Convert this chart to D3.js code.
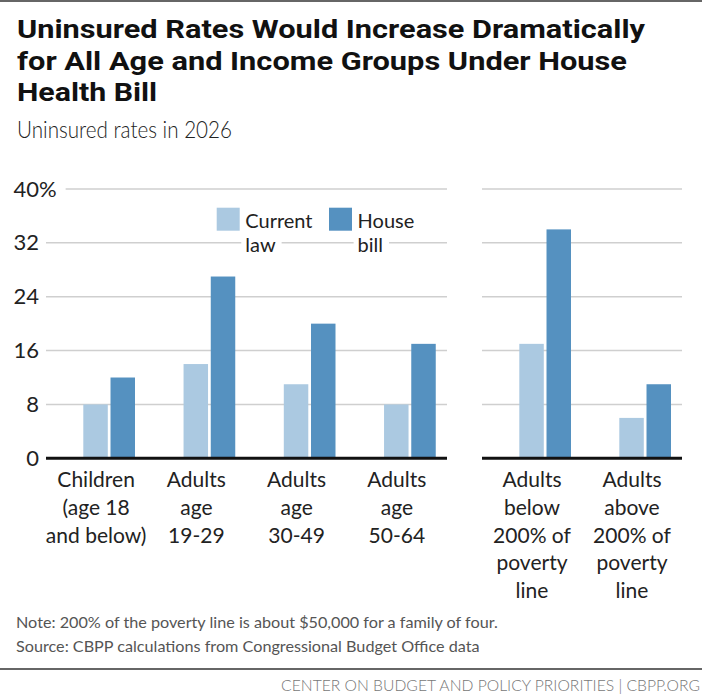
<!DOCTYPE html>
<html>
<head>
<meta charset="utf-8">
<script src="https://cdn.jsdelivr.net/npm/d3@7"></script>
<style>
  body { margin: 0; background: #fff; }
  svg { display: block; font-family: Lato, "Open Sans", sans-serif; }
</style>
</head>
<body>
<svg width="702" height="700"></svg>
<script>
// chart data
const ageGroups = ["Children\n(age 18\nand below)", "Adults\nage\n19-29", "Adults\nage\n30-49", "Adults\nage\n50-64"];
const incomeGroups = ["Adults\nbelow\n200% of\npoverty\nline", "Adults\nabove\n200% of\npoverty\nline"];
const currentAge = [8, 14, 11, 8];
const houseAge = [12, 27, 20, 17];
const currentIncome = [17, 6];
const houseIncome = [34, 11];
const series = ["Current law", "House bill"];
const yTicks = [0, 8, 16, 24, 32, 40];

const colors = { "Current law": "#abc9e1", "House bill": "#5591c0" };

let svg = d3.select("svg");

// top rule
svg.append("line")
  .attr("x1", 0).attr("x2", 702).attr("y1", 1).attr("y2", 1)
  .attr("stroke", "#666").attr("stroke-width", 2);

// title + subtitle (widths)
const titleLines = ["Uninsured Rates Would Increase Dramatically", "for All Age and Income Groups Under House", "Health Bill"];
const titleWidths = [628, 610, 140];
svg.append("g").selectAll("text")
  .data(titleLines)
  .enter()
  .append("text")
  .attr("x", 17)
  .attr("y", (d, i) => 38 + i * 31.5)
  .attr("textLength", (d, i) => titleWidths[i])
  .attr("lengthAdjust", "spacingAndGlyphs")
  .style("font-family", "Roboto, Lato, sans-serif")
  .style("font-size", "26.5px")
  .style("font-weight", 700)
  .attr("fill", "#111")
  .text(d => d);

svg.append("text")
  .attr("x", 17).attr("y", 138)
  .attr("textLength", 215)
  .attr("lengthAdjust", "spacingAndGlyphs")
  .style("font-size", "23px")
  .style("font-weight", 300)
  .attr("fill", "#222")
  .text("Uninsured rates in 2026");

// scales
let y = d3.scaleLinear().domain([0, 40]).range([458.3, 189]);

let xLeft = d3.scaleBand().domain(d3.range(ageGroups.length)).range([46, 447]);
let xRight = d3.scaleBand().domain(d3.range(incomeGroups.length)).range([482, 682]);
let xSub = d3.scaleBand().domain(series).range([37.3, 89]).paddingInner(0.1);

// y axis labels (left panel only)
let yAxis = svg.append("g")
  .attr("transform", "translate(46,0)")
  .call(d3.axisLeft(y).tickValues(yTicks).tickSize(0).tickPadding(7).tickFormat(d => d));
yAxis.select(".domain").remove();
yAxis.selectAll("text")
  .style("font-family", "Lato, sans-serif")
  .style("font-size", "22px")
  .attr("fill", "#222");

// percent sign hangs to the right of the top label
let pct = yAxis.selectAll(".tick").filter(d => d === 40).select("text");
pct.append("tspan").text("%");
let pctW = pct.select("tspan").node().getComputedTextLength();
pct.attr("x", -7 + pctW);

// gridlines
function grid(xs, x0) {
  svg.append("g")
    .selectAll("line")
    .data(yTicks.filter(d => d > 0))
    .enter()
    .append("line")
    .attr("x1", d => (d === 40 && x0 === 46) ? 46 + pctW + 2 : x0)
    .attr("x2", xs.range()[1])
    .attr("y1", d => y(d)).attr("y2", d => y(d))
    .attr("stroke", "#cfcfcf")
    .attr("stroke-width", 1.5);
}
grid(xLeft, 46);
grid(xRight, 482);

// legend
const legendX = [216.7, 329];
const legendLines = [["Current", "law"], ["House", "bill"]];
let legend = svg.append("g").selectAll("g")
  .data(series)
  .enter()
  .append("g")
  .attr("transform", (d, i) => "translate(" + legendX[i] + ",207.7)");

legend.append("rect")
  .attr("width", 23).attr("height", 23)
  .attr("fill", d => colors[d]);

legend.each(function (d, i) {
  let g = d3.select(this);
  legendLines[i].forEach((t, j) => {
    let bg = g.append("rect").attr("fill", "#fff");
    let txt = g.append("text")
      .attr("x", 28.6)
      .attr("y", 20.3 + j * 24)
      .style("font-size", "20px")
      .attr("fill", "#222")
      .text(t);
    let w = txt.node().getComputedTextLength();
    bg.attr("x", 24.6).attr("y", j * 24).attr("width", w + 10).attr("height", 26);
  });
});

// bars
function drawBars(xs, cur, hou) {
  let rows = cur.map((c, i) => ({ i: i, vals: [{ s: series[0], v: c }, { s: series[1], v: hou[i] }] }));
  svg.append("g")
    .selectAll("g")
    .data(rows)
    .enter()
    .append("g")
    .attr("transform", d => "translate(" + xs(d.i) + ",0)")
    .selectAll("rect")
    .data(d => d.vals)
    .enter()
    .append("rect")
    .attr("x", d => xSub(d.s))
    .attr("width", xSub.bandwidth())
    .attr("y", d => y(d.v))
    .attr("height", d => y(0) - y(d.v))
    .attr("fill", d => colors[d.s]);
}
drawBars(xLeft, currentAge, houseAge);
drawBars(xRight, currentIncome, houseIncome);

// baselines
[xLeft, xRight].forEach(xs => {
  svg.append("line")
    .attr("x1", xs.range()[0]).attr("x2", xs.range()[1])
    .attr("y1", y(0)).attr("y2", y(0))
    .attr("stroke", "#111").attr("stroke-width", 3);
});

// category labels
function catLabels(xs, labels) {
  svg.append("g")
    .selectAll("text")
    .data(labels)
    .enter()
    .append("text")
    .attr("text-anchor", "middle")
    .style("font-size", "21px")
    .attr("fill", "#222")
    .each(function (d, i) {
      d.split("\n").forEach((t, j) => {
        d3.select(this).append("tspan")
          .attr("x", xs(i) + xs.bandwidth() / 2)
          .attr("y", 487 + j * 27.8)
          .text(t);
      });
    });
}
catLabels(xLeft, ageGroups);
catLabels(xRight, incomeGroups);

// notes
svg.append("text")
  .attr("x", 16).attr("y", 627.7)
  .style("font-size", "16.2px").attr("fill", "#555")
  .text("Note: 200% of the poverty line is about $50,000 for a family of four.");
svg.append("text")
  .attr("x", 16).attr("y", 652)
  .style("font-size", "16.2px").attr("fill", "#555")
  .text("Source: CBPP calculations from Congressional Budget Office data");

svg.append("line")
  .attr("x1", 0).attr("x2", 702).attr("y1", 669).attr("y2", 669)
  .attr("stroke", "#666").attr("stroke-width", 2);

svg.append("text")
  .attr("x", 700).attr("y", 691)
  .attr("text-anchor", "end")
  .style("font-size", "15.7px")
  .style("font-weight", 300)
  .attr("fill", "#777")
  .text("CENTER ON BUDGET AND POLICY PRIORITIES | CBPP.ORG");
</script>
</body>
</html>
